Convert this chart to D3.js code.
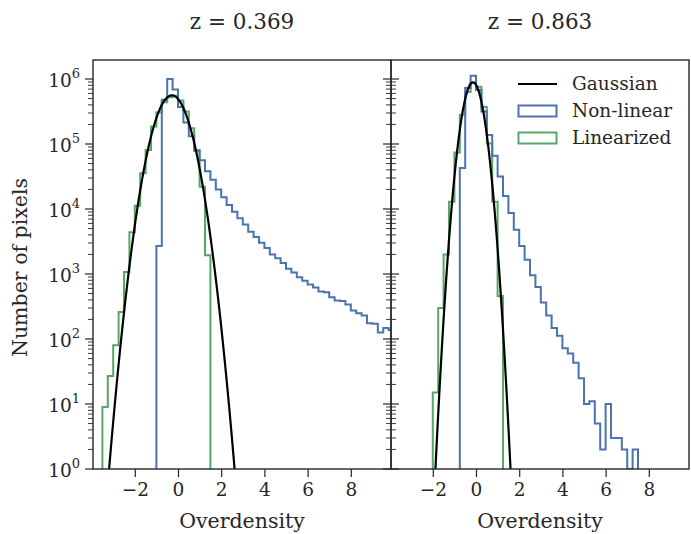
<!DOCTYPE html>
<html>
  <head>
    <meta charset="utf-8" />
    <title>overdensity histograms</title>
    <script src="https://cdn.jsdelivr.net/npm/d3@7"></script>
    <style type="text/css">
      body { margin: 0; background: #fff; }
      svg text { font-family: "DejaVu Serif", serif; fill: #262626; }
    </style>
  </head>
  <body>
    <svg id="chart" width="691" height="534"></svg>
    <script type="text/javascript">
      // histogram bins are 0.25 wide, the arrays give counts per bin from the start edge
      var binWidth = 0.25;

      var panelTitles = ['z = 0.369', 'z = 0.863'];
      var xTicks = [-2, 0, 2, 4, 6, 8];
      var yTicks = [1, 10, 100, 1e3, 1e4, 1e5, 1e6];
      var legendLabels = ['Gaussian', 'Non-linear', 'Linearized'];

      // z = 0.369
      var linStartA = -3.5;
      var linCountsA = [9, 27, 80, 260, 1070, 4400, 11200, 35500, 81000, 186000, 309000,
        437000, 525000, 550000, 468000, 316000, 174000, 81000, 21900, 1950];
      var nlStartA = -1.0;
      var nlCountsA = [2700, 479000, 1000000, 692000, 372000, 214000, 132000, 79000, 56000,
        38000, 28200, 20000, 15100, 11500, 9100, 7200, 5750, 4470, 3700, 3020, 2510, 2000,
        1740, 1480, 1200, 1050, 890, 790, 690, 620, 540, 525, 440, 390, 385, 340, 275, 250,
        230, 175, 172, 126, 148, 138];
      var gaussA = { amp: 5.6e5, mu: -0.285, sigma: 0.5645 };

      // z = 0.863
      var linStartB = -2.0;
      var linCountsB = [15, 300, 2000, 12900, 74000, 282000, 631000, 871000, 759000, 372000,
        102000, 12900, 457];
      var nlStartB = -0.75;
      var nlCountsB = [42700, 724000, 1120000, 676000, 316000, 138000, 66000, 31600, 15800,
        8700, 4790, 2690, 1660, 955, 631, 363, 229, 148, 112, 72, 60, 43, 25, 10, 11, 5, 2,
        10, 3, 3, 2, 0, 2];
      var gaussB = { amp: 8.9e5, mu: -0.14, sigma: 0.332 };

      var panels = [
        { title: panelTitles[0], lin: [linStartA, linCountsA], nl: [nlStartA, nlCountsA], g: gaussA },
        { title: panelTitles[1], lin: [linStartB, linCountsB], nl: [nlStartB, nlCountsB], g: gaussB }
      ];

      var colNl = '#4C72B0', colLin = '#55A868', ink = '#262626';
      var pTop = 60, pBottom = 469, pw = 298, lefts = [93, 391];

      var svg = d3.select('#chart');
      var y = d3.scaleLog().domain([1, 1.96e6]).range([pBottom, pTop]);
      var yc = function (v) { return y(Math.max(v, 1)); };

      function stepPath(x, start, counts) {
        var p = d3.path();
        p.moveTo(x(start), pBottom);
        counts.forEach(function (c, i) {
          var x0 = x(start + i * binWidth), x1 = x(start + (i + 1) * binWidth);
          p.lineTo(x0, yc(c));
          p.lineTo(x1, yc(c));
        });
        p.lineTo(x(start + counts.length * binWidth), pBottom);
        return p.toString();
      }

      panels.forEach(function (pn, k) {
        var x0 = lefts[k];
        var x = d3.scaleLinear().domain([-3.935, 9.86]).range([x0, x0 + pw]);
        var g = svg.append('g');

        g.append('clipPath').attr('id', 'clip' + k)
          .append('rect').attr('x', x0).attr('y', pTop).attr('width', pw).attr('height', pBottom - pTop);
        var plot = g.append('g').attr('clip-path', 'url(#clip' + k + ')');

        plot.append('path').attr('d', stepPath(x, pn.lin[0], pn.lin[1]))
          .attr('fill', 'none').attr('stroke', colLin).attr('stroke-width', 2);
        plot.append('path').attr('d', stepPath(x, pn.nl[0], pn.nl[1]))
          .attr('fill', 'none').attr('stroke', colNl).attr('stroke-width', 2);

        var gf = function (u) {
          return pn.g.amp * Math.exp(-Math.pow(u - pn.g.mu, 2) / (2 * pn.g.sigma * pn.g.sigma));
        };
        var gs = d3.range(-3.9, 9.9, 0.02).filter(function (u) { return gf(u) > 0.3; });
        var line = d3.line().x(function (u) { return x(u); }).y(function (u) { return y(gf(u)); });
        plot.append('path').attr('d', line(gs))
          .attr('fill', 'none').attr('stroke', '#000').attr('stroke-width', 2.2);

        // x axis
        var xa = g.append('g').attr('transform', 'translate(0,' + pBottom + ')')
          .call(d3.axisBottom(x).tickValues(xTicks).tickSize(8).tickPadding(6)
            .tickFormat(function (d) { return d < 0 ? '\u2212' + (-d) : d; }));
        xa.select('.domain').remove();
        xa.selectAll('line').attr('stroke', ink).attr('stroke-width', 1.2);
        xa.selectAll('text').attr('font-size', 18.5).attr('font-family', 'DejaVu Serif').attr('fill', ink);

        // y ticks point outward from the left spine, and from the right spine of the first panel
        var minor = [];
        for (var e = 0; e < 7; e++) for (var m = 2; m < 10; m++) if (m * Math.pow(10, e) < 1.96e6) minor.push(m * Math.pow(10, e));
        var sides = k === 0 ? [[x0, -1], [x0 + pw, 1]] : [[x0, -1]];
        sides.forEach(function (s) {
          g.selectAll(null).data(yTicks).enter().append('line')
            .attr('x1', s[0]).attr('x2', s[0] + s[1] * 8).attr('y1', y).attr('y2', y)
            .attr('stroke', ink).attr('stroke-width', 1.2);
          g.selectAll(null).data(minor).enter().append('line')
            .attr('x1', s[0]).attr('x2', s[0] + s[1] * 5).attr('y1', y).attr('y2', y)
            .attr('stroke', ink).attr('stroke-width', 0.9);
        });

        if (k === 0) {
          var lab = g.selectAll(null).data(yTicks).enter().append('text')
            .attr('x', x0 - 13).attr('y', function (d) { return y(d) + 8; })
            .attr('text-anchor', 'end').attr('font-size', 18.5);
          lab.append('tspan').text('10');
          lab.append('tspan').attr('dy', -9).attr('font-size', 13)
            .text(function (d) { return Math.round(Math.log10(d)); });
        }

        g.append('rect').attr('x', x0).attr('y', pTop).attr('width', pw).attr('height', pBottom - pTop)
          .attr('fill', 'none').attr('stroke', ink).attr('stroke-width', 1.4);

        g.append('text').attr('x', x0 + pw / 2).attr('y', 29).attr('text-anchor', 'middle')
          .attr('font-size', 21.5).text(pn.title);
        g.append('text').attr('x', x0 + pw / 2).attr('y', 528).attr('text-anchor', 'middle')
          .attr('font-size', 20.5).text('Overdensity');
      });

      svg.append('text').attr('transform', 'translate(27,' + ((pTop + pBottom) / 2 + 3) + ') rotate(-90)')
        .attr('text-anchor', 'middle').attr('font-size', 20.5).text('Number of pixels');

      // legend
      var leg = svg.append('g').attr('transform', 'translate(518,84)');
      var cols = ['#000', colNl, colLin];
      legendLabels.forEach(function (t, i) {
        var row = leg.append('g').attr('transform', 'translate(0,' + i * 27 + ')');
        if (i === 0) {
          row.append('line').attr('x1', 0).attr('x2', 39).attr('stroke', '#000').attr('stroke-width', 2.2);
        } else {
          row.append('rect').attr('x', 0.5).attr('y', -5.5).attr('width', 38).attr('height', 11)
            .attr('fill', 'none').attr('stroke', cols[i]).attr('stroke-width', 2);
        }
        row.append('text').attr('x', 54).attr('y', 6).attr('font-size', 18.5).text(t);
      });
    </script>
  </body>
</html>
